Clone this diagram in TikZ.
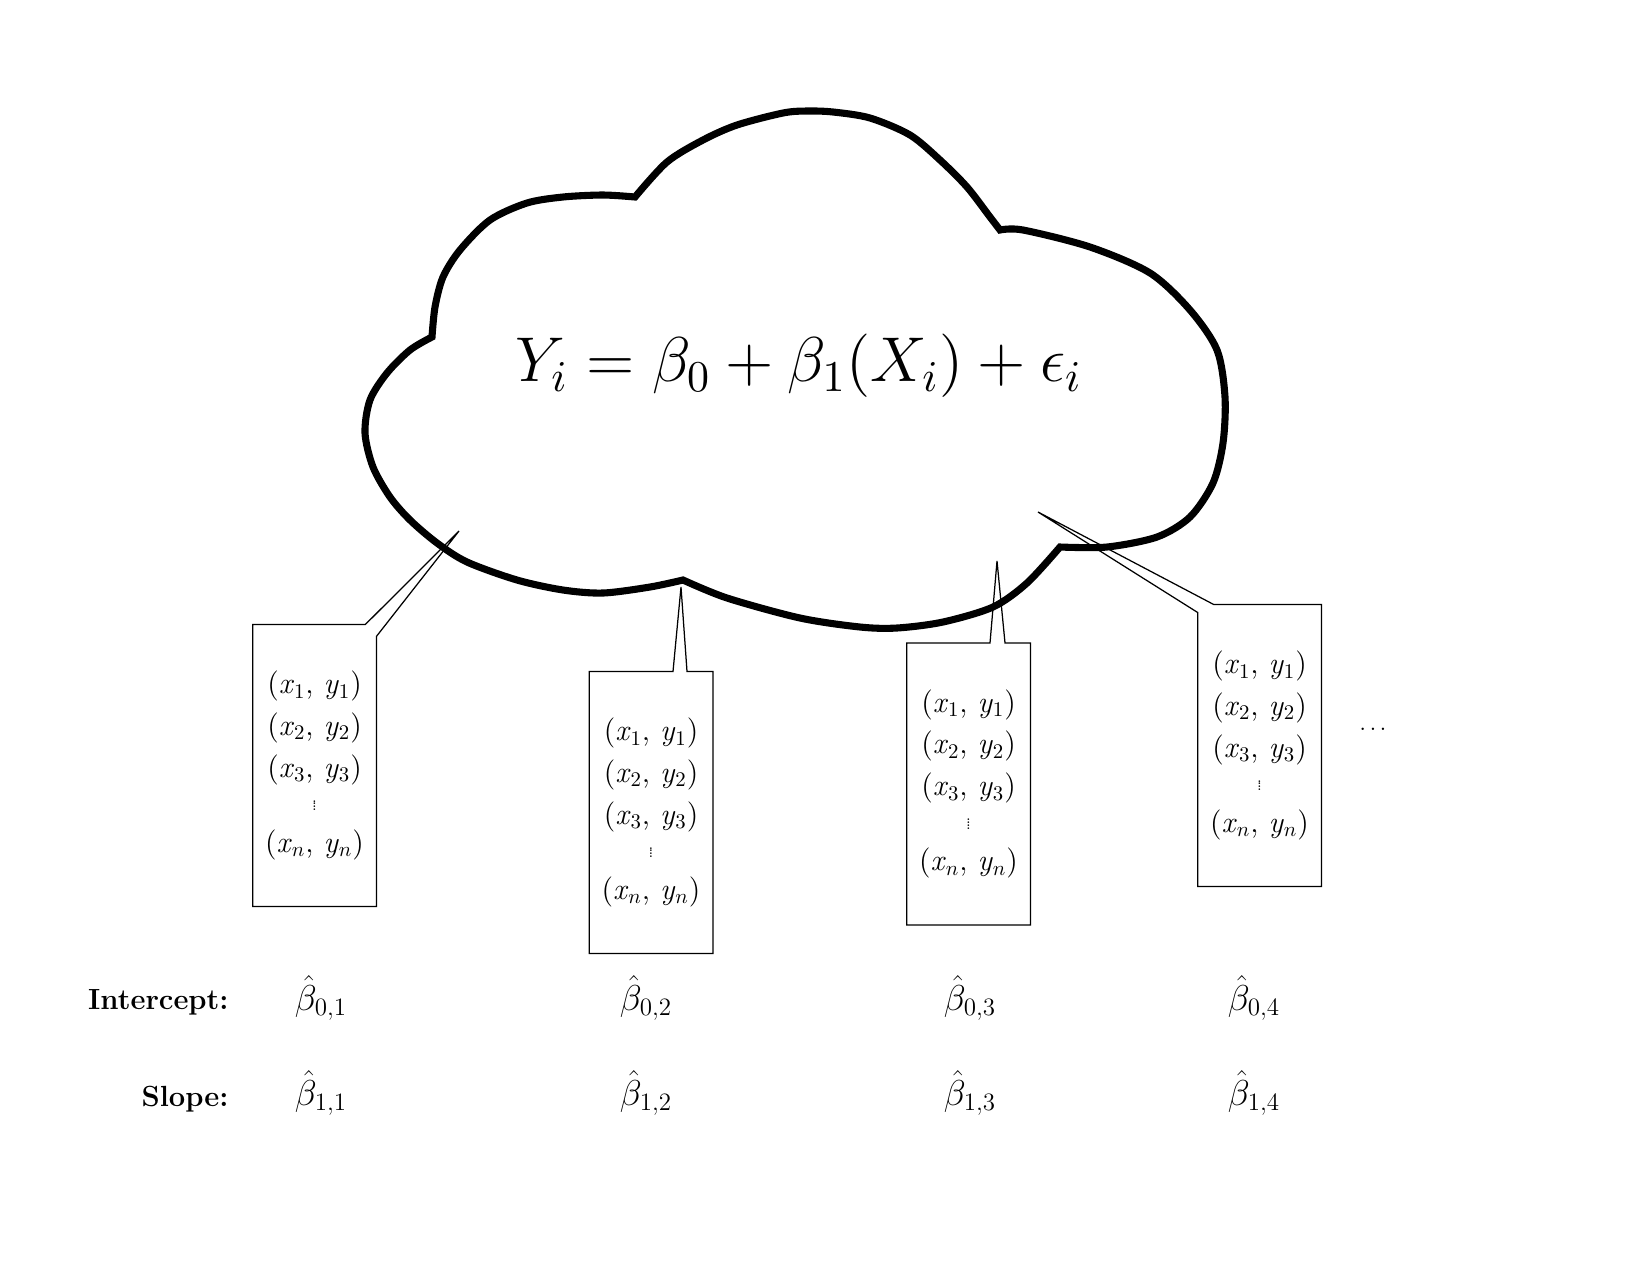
\documentclass[tikz,border=0pt]{standalone}
\usepackage{amsmath}
\usepackage{amssymb}
\usepackage{tikz}
\usetikzlibrary{calc}

\newcommand{\gapdots}{{\scriptsize\vbox{\baselineskip1.4pt\lineskiplimit-10pt\hbox{.}\hbox{.}\hbox{.}\hbox{.}}}}
\newcommand{\samplepts}{(\textit{x}$_1$, \textit{y}$_1$)\\(\textit{x}$_2$, \textit{y}$_2$)\\(\textit{x}$_3$, \textit{y}$_3$)\\[-3.8pt]\gapdots\\(\textit{x}$_n$, \textit{y}$_n$)}

\begin{document}
\begin{tikzpicture}[x=0.48pt,y=-0.48pt,
  cloudline/.style={line width=3.4pt,line join=miter},
  sample/.style={minimum width=59pt,minimum height=135pt,align=center,inner sep=0pt,font=\fontsize{14.5}{20}\selectfont},
  callout/.style={line width=0.6pt},
  rowlabel/.style={anchor=base east,inner sep=0pt,font=\fontsize{14}{17}\selectfont\bfseries},
  est/.style={anchor=base,font=\fontsize{17.5}{21}\selectfont}]
\useasboundingbox (0,0) rectangle (1650,1275);

\node[sample] (s1) at (314.5,765.5) {\samplepts};
\node[sample] (s2) at (651,812.5) {\samplepts};
\node[sample] (s3) at (968.5,784) {\samplepts};
\node[sample] (s4) at (1259.5,745.5) {\samplepts};
\node[font=\fontsize{11}{13}\selectfont] (more) at (1373,729) {$\ldots$};

\coordinate (t1) at (459,531);
\coordinate (t2) at (681,587);
\coordinate (t3) at (997,561);
\coordinate (t4) at (1038,512);

\draw[callout] ($(s1.north east)+(-11,0)$) -- (t1) -- ($(s1.north east)+(0,12)$) -- (s1.south east) -- (s1.south west) -- (s1.north west) -- cycle;
\draw[callout] ($(s2.north)+(22,0)$) -- (t2) -- ($(s2.north)+(36,0)$) -- (s2.north east) -- (s2.south east) -- (s2.south west) -- (s2.north west) -- cycle;
\draw[callout] ($(s3.north)+(21.5,0)$) -- (t3) -- ($(s3.north)+(36.5,0)$) -- (s3.north east) -- (s3.south east) -- (s3.south west) -- (s3.north west) -- cycle;
\draw[callout] ($(s4.north west)+(16,0)$) -- (s4.north east) -- (s4.south east) -- (s4.south west) -- ($(s4.north west)+(0,8)$) -- (t4) -- cycle;

\draw[cloudline] plot[smooth] coordinates {(432,337) (435,307) (443,277) (460,250) (490,220) (527,203) (563,197) (603,195) (635,197)}
  -- plot[smooth] coordinates {(635,197) (667,162) (703,140) (737,125) (783,113) (807,111) (833,112) (870,118) (910,135) (940,160) (967,187) (990,217) (1000,230)}
  -- plot[smooth] coordinates {(1000,230) (1023,230) (1090,247) (1150,273) (1190,310) (1217,350) (1225,397) (1223,443) (1213,483) (1190,517) (1157,537) (1107,547) (1060,547)}
  -- plot[smooth] coordinates {(1060,547) (1027,583) (993,607) (943,622) (897,628) (860,627) (800,618) (727,598) (683,580)}
  -- plot[smooth] coordinates {(683,580) (650,587) (603,593) (563,590) (517,580) (467,562) (437,543) (410,520) (390,497) (373,467) (365,433) (370,400) (387,373) (410,350) (432,337)} -- cycle;

\node[scale=2.11,font=\fontsize{14.4}{17}\selectfont] (eq) at (799,366) {$Y_i = \beta_0 + \beta_1(X_i) + \epsilon_i$};

\node[rowlabel] (lint) at (229,1009) {Intercept:};
\node[rowlabel] (lslp) at (229,1106) {Slope:};
\foreach \k/\x in {1/321,2/646,3/970,4/1254}{
  \node[est] (bint\k) at (\x,1010) {$\hat{\beta}_{0,\k}$};
  \node[est] (bslp\k) at (\x,1105) {$\hat{\beta}_{1,\k}$};
}
\end{tikzpicture}
\end{document}
